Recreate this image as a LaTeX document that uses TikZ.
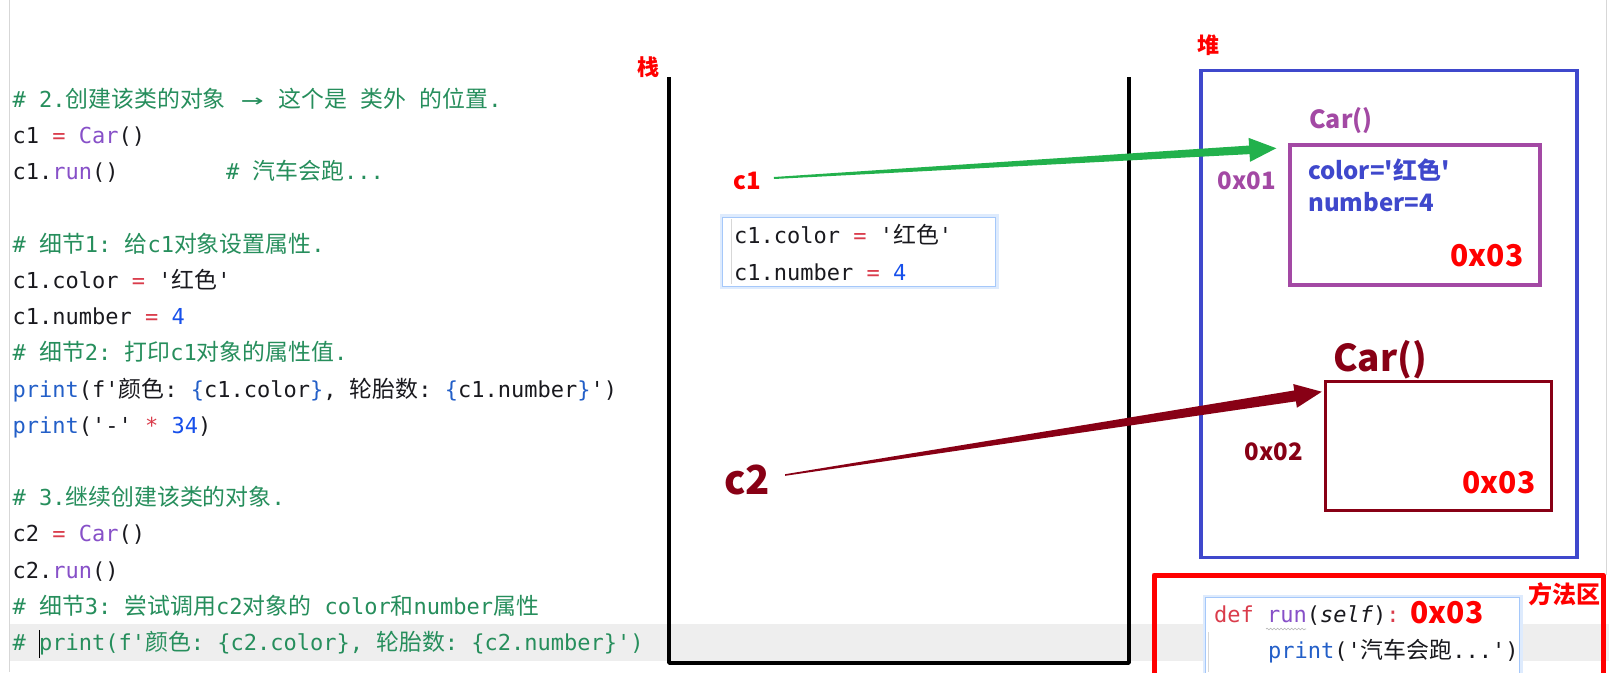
\documentclass[tikz,border=0pt]{standalone}
\usepackage{fontspec}
\usepackage{graphicx}
\setmonofont{DejaVu Sans Mono}[Ligatures=TeXOff]
\newfontfamily\cjk{Noto Sans CJK SC}[Ligatures=TeXOff]
\newfontfamily\cjkcode{Noto Sans CJK SC}[Ligatures=TeXOff, Scale=1.04]
\usetikzlibrary{calc,decorations.pathmorphing}

\definecolor{cmt}{RGB}{38,142,92}
\definecolor{kw}{RGB}{218,60,75}
\definecolor{fn}{RGB}{135,80,200}
\definecolor{num}{RGB}{23,80,235}
\definecolor{pr}{RGB}{35,95,200}
\definecolor{txt}{RGB}{25,25,30}
\definecolor{arrgreen}{RGB}{34,177,76}
\definecolor{darkred}{RGB}{136,0,21}
\definecolor{heapblue}{RGB}{63,72,204}
\definecolor{objpurple}{RGB}{163,73,164}
\definecolor{band}{RGB}{238,238,238}
\definecolor{glow}{RGB}{165,200,250}
\definecolor{glowsoft}{RGB}{222,235,253}
\definecolor{gutter}{RGB}{215,215,215}

\newcommand\zh[1]{{\cjkcode #1}}
\newcommand\codefont{\ttfamily\fontsize{22}{26}\selectfont}
\newcommand\lblfont[1]{\cjk\bfseries\fontsize{#1}{#1}\selectfont}

% tapered arrow: #1 tail, #2 tip, #3 colour, #4 tail half width, #5 base half width, #6 head half width, #7 head length
\newcommand\taperarrow[7]{%
  \coordinate (tpH) at ($(#2)!#7!(#1)$);
  \fill[#3] ($(#1)!#4!90:(#2)$) -- ($(tpH)!#5!90:(#2)$) -- ($(tpH)!#6!90:(#2)$) -- (#2)
    -- ($(tpH)!#6!-90:(#2)$) -- ($(tpH)!#5!-90:(#2)$) -- ($(#1)!#4!-90:(#2)$) -- cycle;}

\tikzset{
  codeline/.style={anchor=base west, inner sep=0pt, font=\codefont, text=txt},
  lbl/.style={inner sep=0pt},
  popup/.style={anchor=north west, fill=white, draw=glow, line width=1.2pt, inner sep=0pt,
                preaction={draw=glowsoft, line width=6pt}},
  boxnode/.style={inner sep=0pt, line width=3.5pt},
  guide/.style={draw=gutter, line width=1pt},
}

\begin{document}
\begin{tikzpicture}[x=1pt,y=-1pt]
\useasboundingbox (0,0) rectangle (1609,672);
\fill[white] (0,0) rectangle (1609,672);

% current-line band and editor gutters
\fill[band] (10,624) rectangle (1609,661);
\draw[guide] (9.5,0) -- (9.5,672);
\draw[guide] (1606.5,0) -- (1606.5,575);

% ---------------- code ----------------
\node[codeline] (L0) at (12.5,107.5) {\textcolor{cmt}{\# 2.\zh{创建该类的对象} \makebox[1.204em]{\scalebox{1.7}[1]{→}} \zh{这个是} \zh{类外} \zh{的位置}.}};
\node[codeline] (L1) at (12.5,143.7) {c1 \textcolor{kw}{=} \textcolor{fn}{Car}()};
\node[codeline] (L2) at (12.5,179.9) {c1.\textcolor{fn}{run}()};
\node[codeline] (L2c) at (226,179.9) {\textcolor{cmt}{\# \zh{汽车会跑}...}};
\node[codeline] (L4) at (12.5,252.3) {\textcolor{cmt}{\# \zh{细节}1: \zh{给}c1\zh{对象设置属性}.}};
\node[codeline] (L5) at (12.5,288.5) {c1.color \textcolor{kw}{=} '\zh{红色}'};
\node[codeline] (L6) at (12.5,324.7) {c1.number \textcolor{kw}{=} \textcolor{num}{4}};
\node[codeline] (L7) at (12.5,360.9) {\textcolor{cmt}{\# \zh{细节}2: \zh{打印}c1\zh{对象的属性值}.}};
\node[codeline] (L8) at (12.5,397.1) {\textcolor{pr}{print}(f'\zh{颜色}: \textcolor{pr}{\{}c1.color\textcolor{pr}{\}}, \zh{轮胎数}: \textcolor{pr}{\{}c1.number\textcolor{pr}{\}}')};
\node[codeline] (L9) at (12.5,433.3) {\textcolor{pr}{print}('-' \textcolor{kw}{*} \textcolor{num}{34})};
\node[codeline] (L11) at (12.5,505.7) {\textcolor{cmt}{\# 3.\zh{继续创建该类的对象}.}};
\node[codeline] (L12) at (12.5,541.9) {c2 \textcolor{kw}{=} \textcolor{fn}{Car}()};
\node[codeline] (L13) at (12.5,578.1) {c2.\textcolor{fn}{run}()};
\node[codeline] (L14) at (12.5,614.3) {\textcolor{cmt}{\# \zh{细节}3: \zh{尝试调用}c2\zh{对象的} color\zh{和}number\zh{属性}}};
\node[codeline] (L15) at (12.5,650.5) {\textcolor{cmt}{\# print(f'\zh{颜色}: \{c2.color\}, \zh{轮胎数}: \{c2.number\}')}};
\draw[black, line width=1.3pt] (39.5,630) -- (39.5,658);

% ---------------- stack ----------------
\node[lbl, text=red, font=\lblfont{22}] (stackLbl) at (648,67) {栈};
\draw[line width=3.5pt, line join=round] (669,77) -- (669,663) -- (1129,663) -- (1129,77);
\node[lbl, text=red, font=\lblfont{24}] (c1) at (747,181) {c1};
\node[lbl, text=darkred, font=\lblfont{40}] (c2) at (747,480) {c2};

\node[popup, minimum width=273pt, minimum height=69pt] (pop1) at (722,216.5) {};
\draw[guide] (731,219) -- (731,284);
\node[codeline] (P1) at (734,243) {c1.color \textcolor{kw}{=} '\zh{红色}'};
\node[codeline] (P2) at (734,280) {c1.number \textcolor{kw}{=} \textcolor{num}{4}};

% ---------------- heap ----------------
\node[lbl, text=red, font=\lblfont{22}] (heapLbl) at (1208,45) {堆};
\node[boxnode, draw=heapblue, minimum width=376pt, minimum height=487pt] (heap) at (1389,314) {};

\node[boxnode, draw=objpurple, minimum width=250pt, minimum height=140pt] (obj1) at (1415,215) {};
\node[lbl, text=objpurple, font=\lblfont{25}] (car1) at (1341,121) {Car()};
\node[lbl, text=objpurple, font=\lblfont{24}] (addr1) at (1247,181) {0x01};
\node[lbl, anchor=west, text=heapblue, font=\lblfont{24}] (attr1) at (1308,170) {color='红色'};
\node[lbl, anchor=west, text=heapblue, font=\lblfont{24}] (attr2) at (1308,202) {number=4};
\node[lbl, text=red, font=\lblfont{30}] (m1) at (1487,256) {0x03};

\node[boxnode, draw=darkred, minimum width=226pt, minimum height=129pt] (obj2) at (1438.5,446) {};
\node[lbl, text=darkred, font=\lblfont{37}] (car2) at (1380,360) {Car()};
\node[lbl, text=darkred, font=\lblfont{24}] (addr2) at (1274,452) {0x02};
\node[lbl, text=red, font=\lblfont{30}] (m2) at (1499,483) {0x03};

% ---------------- method area ----------------
\draw[red, line width=5pt, line join=round] (1154,690) -- (1154,575) -- (1603,575) -- (1603,690);
\node[lbl, text=red, font=\lblfont{24}] (methLbl) at (1564,594) {方法区};
\node[popup, minimum width=314pt, minimum height=95pt] (pop2) at (1205,597) {};
\draw[guide] (1208.5,632) -- (1208.5,672);
\node[codeline] (D1) at (1214,622) {\textcolor{kw}{def} \textcolor{fn}{run}({\itshape self})\textcolor{kw}{:}};
\draw[gray!60, line width=0.6pt, decorate, decoration={snake, amplitude=0.8pt, segment length=3.5pt}] (1266,629) -- (1306,629);
\node[lbl, text=red, font=\lblfont{30}] (m3) at (1447,613) {0x03};
\node[codeline] (D2) at (1268,658) {\textcolor{pr}{print}('\zh{汽车会跑}...')};

% ---------------- references ----------------
\coordinate (c1tail) at ($(c1.east)+(13,-3)$);
\coordinate (c1tip) at ($(obj1.north west)+(-12,5)$);
\taperarrow{c1tail}{c1tip}{arrgreen}{1pt}{4.3pt}{12pt}{27pt}
\coordinate (c2tail) at ($(c2.east)+(15,-5)$);
\coordinate (c2tip) at ($(obj2.north west)+(-2,12)$);
\taperarrow{c2tail}{c2tip}{darkred}{0.8pt}{5.5pt}{12pt}{27pt}
\end{tikzpicture}
\end{document}
